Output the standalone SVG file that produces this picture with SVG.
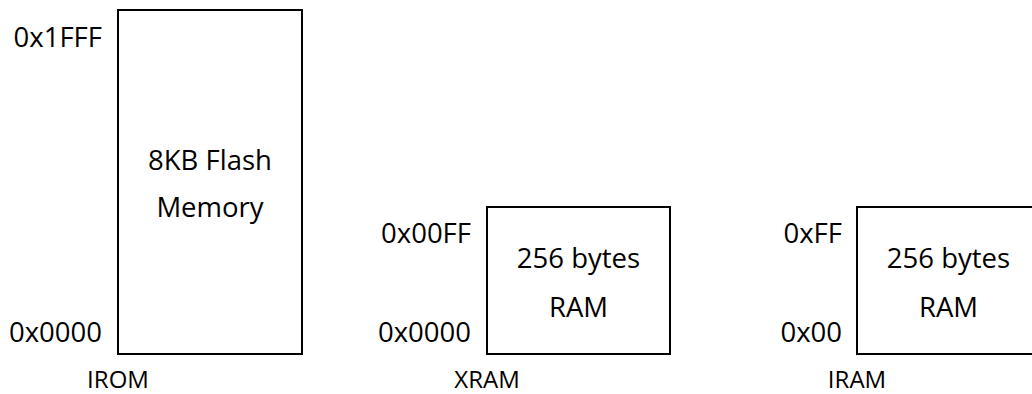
<svg xmlns="http://www.w3.org/2000/svg" width="1032" height="394" viewBox="0 0 1032 394">
  <style>
    .box { fill: #ffffff; stroke: #000000; stroke-width: 2; }
    .t { font-family: "Open Sans", "Liberation Sans", sans-serif; font-size: 27.5px; fill: #000000; }
    .addr { text-anchor: end; }
    .mid { text-anchor: middle; }
    .cap { font-family: "Open Sans", "Liberation Sans", sans-serif; font-size: 24px; fill: #000000; text-anchor: middle; }
  </style>
  <rect x="0" y="0" width="1032" height="394" fill="#ffffff"/>
  <g id="irom">
    <rect class="box" x="118" y="10" width="184" height="344"/>
    <text class="t mid" x="210" y="170">8KB Flash</text>
    <text class="t mid" x="210" y="217">Memory</text>
    <text class="t addr" x="102" y="47">0x1FFF</text>
    <text class="t addr" x="102" y="342">0x0000</text>
    <text class="cap" x="118" y="388">IROM</text>
  </g>
  <g id="xram">
    <rect class="box" x="487" y="207" width="183" height="147"/>
    <text class="t mid" x="578.5" y="268">256 bytes</text>
    <text class="t mid" x="578.5" y="317">RAM</text>
    <text class="t addr" x="471" y="243">0x00FF</text>
    <text class="t addr" x="471" y="342">0x0000</text>
    <text class="cap" x="487" y="388">XRAM</text>
  </g>
  <g id="iram">
    <rect class="box" x="857" y="207" width="183" height="147"/>
    <text class="t mid" x="948.5" y="268">256 bytes</text>
    <text class="t mid" x="948.5" y="317">RAM</text>
    <text class="t addr" x="842" y="243">0xFF</text>
    <text class="t addr" x="842" y="342">0x00</text>
    <text class="cap" x="857" y="388">IRAM</text>
  </g>
  <g id="connectors"/>
</svg>
